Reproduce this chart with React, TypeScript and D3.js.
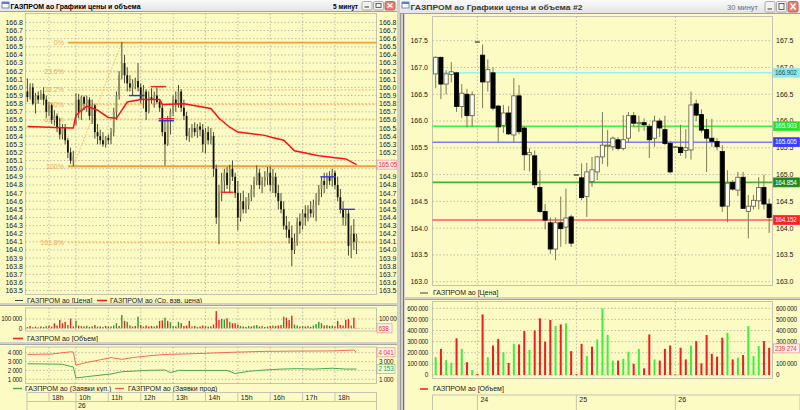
import React from 'react';
import * as d3 from 'd3';

// ---------- Left chart: 5-minute bars [open, high, low, close], 25th 17:20 → 26th 18:40 ----------
const leftBars: number[][] = [
  [165.95,166.11,165.82,165.88],[165.88,166.05,165.85,166.0],[166.0,166.05,165.78,165.8],[165.8,165.93,165.68,165.9],
  [165.9,165.95,165.8,165.85],[165.85,165.97,165.85,165.92],[165.92,166.0,165.78,165.85],[165.85,165.9,165.63,165.7],
  [165.7,165.82,165.65,165.78],[165.78,165.8,165.55,165.6],[165.6,165.72,165.53,165.65],[165.65,165.68,165.45,165.5],
  [165.5,165.62,165.36,165.42],[165.42,165.55,165.36,165.5],[165.5,165.55,165.3,165.35],[165.35,165.38,165.13,165.2],
  [165.2,165.26,165.06,165.1],[165.1,165.22,165.03,165.15],
  [165.55,165.93,165.53,165.85],[165.85,165.92,165.62,165.7],[165.7,165.9,165.6,165.88],[165.88,165.9,165.72,165.8],
  [165.8,165.9,165.7,165.85],[165.85,165.88,165.6,165.65],[165.65,165.85,165.55,165.78],[165.78,165.8,165.37,165.45],
  [165.45,165.55,165.3,165.4],[165.4,165.48,165.3,165.35],[165.35,165.45,165.27,165.3],[165.3,165.4,165.26,165.38],
  [165.38,165.42,165.3,165.35],[165.35,165.5,165.3,165.45],[165.45,165.75,165.4,165.7],[165.7,165.95,165.6,165.9],
  [165.9,166.2,165.85,166.15],[166.15,166.56,166.1,166.3],[166.3,166.4,166.05,166.15],[166.15,166.25,165.95,166.05],
  [166.05,166.15,165.95,166.0],[166.0,166.1,165.9,166.05],[166.05,166.12,165.98,166.08],[166.08,166.3,165.95,166.0],
  [166.0,166.05,165.8,165.85],[165.85,166.03,165.74,165.95],[165.95,165.98,165.6,165.7],[165.7,165.95,165.68,165.88],
  [165.88,165.99,165.8,165.85],[165.85,165.95,165.75,165.9],[165.9,166.0,165.8,165.82],[165.82,165.85,165.7,165.75],
  [165.75,165.8,165.4,165.45],[165.45,165.6,165.04,165.3],[165.3,165.65,165.28,165.6],[165.6,165.74,165.42,165.7],
  [165.7,165.9,165.65,165.85],[165.85,165.95,165.7,165.8],[165.8,166.03,165.75,165.95],[165.95,165.98,165.7,165.75],
  [165.75,165.85,165.6,165.65],[165.65,165.7,165.35,165.4],[165.4,165.5,165.33,165.45],[165.45,165.55,165.38,165.5],
  [165.5,165.57,165.4,165.45],[165.45,165.55,165.38,165.52],[165.52,165.57,165.4,165.48],[165.48,165.55,165.2,165.3],
  [165.3,165.5,165.19,165.45],[165.45,165.52,165.3,165.35],[165.35,165.5,165.3,165.4],[165.4,165.45,164.9,165.0],
  [165.0,165.05,164.32,164.4],[164.4,164.8,164.07,164.7],[164.7,164.95,164.6,164.85],[164.85,165.0,164.7,164.95],
  [164.95,165.02,164.75,164.8],[164.8,165.05,164.7,165.0],[165.0,165.1,164.85,164.9],[164.9,164.95,164.64,164.7],
  [164.7,164.85,164.24,164.4],[164.4,164.7,164.35,164.6],[164.6,164.73,164.45,164.5],[164.5,164.65,164.45,164.55],
  [164.55,164.7,164.5,164.65],[164.65,164.8,164.6,164.75],[164.75,164.9,164.65,164.85],[164.85,165.04,164.8,164.95],
  [164.95,165.0,164.75,164.8],[164.8,164.9,164.7,164.85],[164.85,164.97,164.78,164.9],[164.9,165.02,164.8,164.95],
  [164.95,165.03,164.72,164.8],[164.8,165.0,164.7,164.9],[164.9,164.95,164.65,164.7],[164.7,164.8,164.5,164.6],
  [164.6,164.7,164.45,164.5],[164.5,164.6,164.25,164.3],[164.3,164.42,164.15,164.25],[164.25,164.35,164.08,164.15],
  [164.15,164.3,163.8,164.0],[164.0,164.2,163.95,164.1],[164.1,164.4,164.05,164.35],[164.35,164.45,164.2,164.3],
  [164.3,164.5,164.25,164.45],[164.45,164.55,164.3,164.4],[164.4,164.55,164.35,164.5],[164.5,164.6,164.4,164.45],
  [164.45,164.62,164.4,164.55],[164.55,164.7,164.35,164.6],[164.6,164.8,164.55,164.75],[164.75,164.9,164.65,164.85],
  [164.85,164.95,164.7,164.8],[164.8,164.95,164.75,164.9],[164.9,164.97,164.8,164.85],[164.85,165.0,164.78,164.95],
  [164.95,164.98,164.75,164.8],[164.8,164.9,164.6,164.65],[164.65,164.75,164.45,164.5],[164.5,164.6,164.3,164.4],
  [164.4,164.5,164.3,164.45],[164.45,164.5,163.93,164.05],[164.05,164.3,163.9,164.2],[164.2,164.38,164.0,164.1],
  [164.1,164.2,163.95,164.15],
];

const leftVwap: number[][] = [
  [0,165.52],[16,165.5],[17,165.5],[18,165.66],[22,165.77],[26,165.72],[30,165.63],[33,165.62],[35,165.72],
  [37,165.82],[42,165.85],[49,165.85],[50,165.79],[58,165.8],[68,165.74],[71,165.62],[75,165.51],[78,165.45],
  [88,165.41],[90,165.39],[95,165.35],[99,165.22],[108,165.16],[118,165.12],[122,165.05],
];

const leftVolume: number[] = [
  15000,25000,12000,18000,10000,20000,15000,22000,30000,18000,54000,30000,90000,55000,70000,35000,105000,20000,
  82000,30000,25000,20000,28000,15000,22000,35000,18000,20000,15000,25000,18000,20000,30000,55000,25000,143000,80000,70000,30000,20000,25000,
  125000,35000,20000,30000,20000,25000,20000,30000,80000,85000,114000,80000,65000,25000,20000,70000,55000,25000,30000,80000,20000,25000,15000,20000,30000,25000,18000,22000,40000,
  185000,90000,100000,95000,107000,70000,55000,55000,40000,25000,20000,15000,25000,20000,30000,35000,20000,25000,15000,20000,25000,30000,25000,30000,35000,125000,114000,90000,136000,
  40000,30000,20000,25000,20000,25000,15000,30000,45000,70000,55000,30000,35000,25000,30000,20000,80000,35000,30000,90000,100000,30000,114000,638,
];
const leftVolDir = 'grgrgrggrrrrrrrgrr' + 'grgrgrgrgrggrgggrgrgrgr' + 'grgrrrgrrrgrggrgrrrrgrgrrgrgr' + 'rrggrgrrrgrrgrggrgrgrgrrrgrrr' + 'ggrgrgrggggrgrgrrrrrrgrr';

const sellOrders: number[][] = [
  [0,3800],[9,3850],[16,4100],[17,4080],[18,2600],[22,2900],[27,3200],[31,3450],[35,3250],[39,3450],
  [45,3650],[51,3800],[63,3900],[76,4050],[88,4150],[100,4180],[113,4200],[121,4300],[122,4041],
];
const buyOrders: number[][] = [
  [0,2750],[13,2700],[16,2450],[17,2400],[18,1150],[22,1300],[31,1600],[35,1850],[44,2000],[51,2050],[53,1750],
  [56,2000],[74,2000],[77,1650],[82,1900],[88,2050],[94,2150],[100,2200],[106,2150],[113,2250],[118,2150],[122,2153],
];

// [fromIdx, toIdx, price, color]
const leftMarkers: (number | string)[][] = [
  [38,43,165.9,'#3030e0'],[46,51,166.01,'#ff2020'],[49,54,165.615,'#ff2020'],[49,54,165.59,'#3030e0'],
  [72,76,164.71,'#ff2020'],[109,114,164.9,'#3838d8'],[116,121,164.5,'#3838d8'],
];

const fibLow = 165.03;
const fibHigh = 166.55;
const fibLevels: number[] = [0, 23.6, 38.2, 50, 61.8, 100, 161.8];
const fibStartIdx = 15;
const fibDiagFrom = 17;
const fibDiagTo = 35;

const leftPriceTicks: number[] = [163.5,163.6,163.7,163.8,163.9,164.0,164.1,164.2,164.3,164.4,164.5,164.6,164.7,164.8,164.9,165.0,165.1,165.2,165.3,165.4,165.5,165.6,165.7,165.8,165.9,166.0,166.1,166.2,166.3,166.4,166.5,166.6,166.7,166.8];
const leftVolTicks: number[] = [0, 100000];
const orderTicks: number[] = [1000, 2000, 3000, 4000];
const leftHourTicks: (number | string)[][] = [[8,'18h'],[18,'10h'],[30,'11h'],[42,'12h'],[54,'13h'],[66,'14h'],[78,'15h'],[90,'16h'],[102,'17h'],[114,'18h']];
const leftDayTicks: (number | string)[][] = [[18,'26']];

// ---------- Right chart: 30-minute candles ----------
const rightBars: number[][] = [
  [166.88,167.21,166.61,167.19],[167.19,167.2,166.41,166.69],[166.69,166.95,166.5,166.88],[166.87,167.1,166.72,166.92],
  [166.9,166.92,166.17,166.27],[166.27,166.69,166.06,166.52],[166.5,166.6,165.88,166.1],[166.1,166.55,165.9,166.49],
  [167.48,167.5,167.47,167.48],
  [167.23,167.43,166.24,166.73],[166.73,167.15,166.55,166.96],[166.9,167.0,166.2,166.24],[166.28,166.3,165.61,165.89],
  [165.92,166.3,165.78,166.15],[166.15,166.28,165.74,165.76],[165.74,166.8,165.6,166.47],[166.47,166.67,165.75,165.8],
  [165.87,165.9,165.08,165.37],[165.37,165.49,165.06,165.41],[165.35,165.45,164.74,164.81],[164.76,165.08,164.28,164.31],
  [164.31,164.45,163.98,164.15],[164.1,164.2,163.52,163.61],[163.61,164.2,163.4,164.1],[164.1,164.59,163.65,163.99],
  [164.02,164.74,163.7,164.19],[164.21,164.25,163.65,163.72],
  [165.0,165.01,164.99,165.0],
  [164.94,165.21,164.52,164.57],[164.59,165.22,164.21,165.05],[164.87,165.33,164.77,165.09],[165.05,165.35,164.9,165.33],
  [165.33,166.17,165.2,165.55],[165.53,165.83,165.15,165.55],[165.52,165.71,165.45,165.68],[165.65,165.7,165.45,165.49],
  [165.49,166.11,165.45,165.65],[165.68,166.17,165.6,166.1],[166.1,166.17,165.9,165.96],[165.95,166.1,165.8,165.97],
  [165.97,166.05,165.82,165.93],[165.9,165.95,165.31,165.65],[165.68,166.1,165.52,166.0],[166.0,166.05,165.7,165.87],
  [165.84,166.1,165.55,165.58],[165.58,165.62,165.02,165.05],
  [165.52,165.53,165.51,165.52],
  [165.51,165.93,165.35,165.41],[165.45,165.85,165.3,165.5],[165.46,166.55,165.28,166.3],[166.32,166.4,166.0,166.11],
  [166.12,166.22,165.78,165.83],[165.84,166.04,165.05,165.68],[165.68,166.04,165.52,165.62],[165.62,165.68,165.45,165.52],
  [165.43,165.55,164.3,164.41],[164.41,165.08,164.11,164.84],[164.85,164.9,164.7,164.73],[164.71,165.05,164.6,164.95],
  [164.95,165.05,164.37,164.37],[164.31,164.62,163.81,164.41],[164.41,164.62,164.35,164.52],[164.51,164.95,164.35,164.76],
  [164.76,165.0,164.35,164.45],[164.45,164.55,163.91,164.2],
];
const rightVolume: number[] = [
  160000,235000,135000,110000,330000,235000,115000,45000,10000,
  545000,160000,265000,325000,205000,108000,280000,275000,395000,225000,400000,510000,300000,495000,440000,455000,465000,215000,8000,
  280000,170000,255000,320000,600000,360000,130000,130000,145000,210000,100000,235000,60000,365000,140000,130000,235000,265000,5000,
  245000,140000,265000,305000,105000,360000,190000,165000,335000,380000,140000,155000,180000,440000,170000,260000,305000,245000,
];
const rightVolDir = 'grggrgrgr' + 'rgrrgrgrrgrrrrgrgrr' + 'rgrggggrggrgrrgrrrr' + 'rrgrrrrrrgrgrgggrr';

// [price, line color, box fill, text color]
const rightLevels: (number | string)[][] = [
  [166.902,'#9ff0ee','#8ee8ea','#205060'],
  [165.903,'#3cf03c','#30e030','#f0fff0'],
  [165.605,'#7a7aff','#3c3cff','#ffffff'],
  [164.854,'#38b838','#1e8a1e','#ffffff'],
  [164.152,'#ff5a5a','#ff2020','#ffffff'],
];
const rightPriceTicks: number[] = [163.0,163.5,164.0,164.5,165.0,165.5,166.0,166.5,167.0,167.5];
const rightVolTicks: number[] = [0,100000,200000,300000,400000,500000,600000];
const rightDayTicks: (number | string)[][] = [[8,'24'],[27,'25'],[46,'26']];
const lastRightVolume = 239274;

// ---------- styling ----------
const FONT = "'Liberation Sans', Arial, sans-serif";
const BG = '#fdfbc4';
const GRID = '#aeae9e';
const FRAME = '#c4c4b0';
const fmtK = (v: number) => d3.format(',')(v).replace(/,/g, ' ');
const fmtP1 = d3.format('.1f');

function TitleBar({ x, w, h, title, tf, active, titleLen, tfX, tfLen }: any) {
  const bx = x + w - 35;
  return (
    <g>
      <defs>
        <linearGradient id={`tb${x}`} x1="0" y1="0" x2="0" y2="1">
          <stop offset="0" stopColor="#fafafa" />
          <stop offset="1" stopColor="#e2e2e2" />
        </linearGradient>
      </defs>
      <rect x={x} y={0} width={w} height={h} fill={`url(#tb${x})`} />
      <line x1={x} x2={x + w} y1={h - 0.5} y2={h - 0.5} stroke="#a0a0a0" />
      <rect x={x + 2} y={2} width={7} height={6} fill="#ffffff" stroke="#5070c0" strokeWidth={0.8} />
      <rect x={x + 2} y={2} width={7} height={2} fill="#5a7fd0" />
      <text x={x + 10.5} y={h / 2 + 3} fontSize={8} fontWeight="bold" textLength={titleLen} lengthAdjust="spacingAndGlyphs"
        fill={active ? '#000' : '#3a3a3a'}>{title}</text>
      <text x={tfX} y={h / 2 + 3} fontSize={8} textLength={tfLen} lengthAdjust="spacingAndGlyphs"
        fill={active ? '#000' : '#707070'} fontWeight={active ? 'bold' : 'normal'}>{tf}</text>
      {[0, 1, 2].map((k) => (
        <g key={k}>
          <rect x={bx + k * 11.5} y={1.5} width={10} height={h - 3.5} rx={1.5}
            fill={k === 2 ? '#e8826e' : '#f2f2f2'} stroke={k === 2 ? '#b05040' : '#9a9a9a'} strokeWidth={0.8} />
          {k === 0 && <line x1={bx + 2.5} x2={bx + 7} y1={h - 5} y2={h - 5} stroke="#555" strokeWidth={1.2} />}
          {k === 1 && <rect x={bx + 11.5 + 2.5} y={3.5} width={5} height={h - 8} fill="none" stroke="#555" strokeWidth={0.9} />}
          {k === 2 && (
            <path d={`M${bx + 23 + 2.5},${3.5}L${bx + 23 + 7.5},${h - 4.5}M${bx + 23 + 7.5},${3.5}L${bx + 23 + 2.5},${h - 4.5}`}
              stroke="#fff" strokeWidth={1.4} />
          )}
        </g>
      ))}
    </g>
  );
}

function Box({ x, y, text, fill, stroke, color, w }: any) {
  return (
    <g>
      <rect x={x} y={y - 4.5} width={w} height={9} fill={fill} stroke={stroke} strokeWidth={0.7} />
      <text x={x + 1.5} y={y} dy="0.35em" fontSize={6.4} letterSpacing={-0.2} fill={color}>{text}</text>
    </g>
  );
}

// compact number label (thousands), narrower like the original
function KLabel({ x, y, v, anchor }: any) {
  return (
    <text x={x} y={y} dy="0.35em" fontSize={6.3} letterSpacing={-0.3} textAnchor={anchor} fill="#222">{fmtK(v)}</text>
  );
}

export default function App() {
  // left scales
  const xL = d3.scaleLinear().domain([0, 122]).range([27.4, 27.4 + 122 * 2.698]);
  const yP = d3.scaleLinear().domain([163.5, 166.8]).range([290.6, 22.4]);
  const yV = d3.scaleLinear().domain([0, 100000]).range([328.3, 319]);
  const yO = d3.scaleLinear().domain([1000, 4000]).range([379.3, 352.7]);
  // right scales
  const xR = d3.scaleLinear().domain([0, 64]).range([435.7, 435.7 + 64 * 5.21]);
  const yR = d3.scaleLinear().domain([163, 167.5]).range([281.7, 40.7]);
  const yRV = d3.scaleLinear().domain([0, 600000]).range([375, 308.3]);

  const L = { x0: 25.5, x1: 376.5 };
  const R = { x0: 432.5, x1: 772.5 };

  const vwapLine = d3.line<number[]>().x((d) => xL(d[0])).y((d) => yP(d[1]))(leftVwap) || '';
  const sellLine = d3.line<number[]>().x((d) => xL(d[0])).y((d) => yO(d[1]))(sellOrders) || '';
  const buyLine = d3.line<number[]>().x((d) => xL(d[0])).y((d) => yO(d[1]))(buyOrders) || '';

  const fibPrice = (lv: number) => fibHigh - (fibHigh - fibLow) * lv / 100;

  const hGrid = (ys: number[], x0: number, x1: number, key: string) =>
    ys.map((y, i) => <line key={key + i} x1={x0} x2={x1} y1={y} y2={y} stroke={GRID} strokeWidth={0.8} strokeDasharray="1.5,2" />);
  const vGrid = (xs: number[], y0: number, y1: number, key: string) =>
    xs.map((x, i) => <line key={key + i} x1={x} x2={x} y1={y0} y2={y1} stroke={GRID} strokeWidth={0.8} strokeDasharray="1.5,2" />);

  const hourXs = leftHourTicks.map((t) => xL(t[0] as number));
  const dayXs = rightDayTicks.map((t) => xR(t[0] as number));

  const lastVwap = leftVwap[leftVwap.length - 1][1];
  const lastSell = sellOrders[sellOrders.length - 1][1];
  const lastBuy = buyOrders[buyOrders.length - 1][1];
  const lastLeftVol = leftVolume[leftVolume.length - 1];

  // right-side labels hidden behind value boxes
  const free = (y: number, boxes: number[]) => boxes.every((b) => Math.abs(b - y) > 4.6);
  const lpBoxes = [yP(lastVwap)];
  const lvBoxes = [yV(0)];
  const loBoxes = [yO(lastSell), yO(lastBuy)];
  const rpBoxes = rightLevels.map((l) => yR(l[0] as number));
  const rvBoxes = [yRV(lastRightVolume)];

  return (
    <svg width={800} height={410} style={{ position: 'absolute', left: 0, top: 0, background: '#d4d0c8' }} fontFamily={FONT}>
      {/* ================= LEFT WINDOW ================= */}
      <rect x={0} y={12} width={397} height={398} fill={BG} />
      {/* price panel */}
      <rect x={L.x0} y={13.5} width={L.x1 - L.x0} height={281} fill="none" stroke={FRAME} />
      {hGrid(leftPriceTicks.map((p) => yP(p)), L.x0, L.x1, 'lpg')}
      {vGrid(hourXs, 13.5, 294.5, 'lpv')}
      {/* fibonacci */}
      {fibLevels.map((lv) => {
        const y = yP(fibPrice(lv));
        const solid = lv === 0 || lv === 100;
        return (
          <g key={'fib' + lv}>
            <line x1={xL(fibStartIdx)} x2={L.x1} y1={y} y2={y}
              stroke={solid ? '#f5a030' : '#f6c070'} strokeWidth={solid ? 1.8 : 1.3}
              strokeDasharray={solid ? undefined : '2,1.5'} />
            <text x={64} y={y} dy="0.35em" fontSize={7} textAnchor="end" fill="#eea860">{lv}%</text>
          </g>
        );
      })}
      <line x1={xL(fibDiagFrom)} y1={yP(fibLow)} x2={xL(fibDiagTo)} y2={yP(fibHigh)} stroke="#f2b060" strokeWidth={0.9} strokeDasharray="1.5,1.5" />
      {/* bars */}
      {leftBars.map((b, i) => {
        const [o, h, l, c] = b;
        const x = xL(i);
        const up = c >= o;
        const top = yP(Math.max(o, c));
        const bh = Math.max(0.8, Math.abs(yP(o) - yP(c)));
        return (
          <g key={'lb' + i}>
            <line x1={x} x2={x} y1={yP(h)} y2={yP(l)} stroke="#4c4c30" strokeWidth={1} />
            <rect x={x - 0.9} y={top} width={1.8} height={bh} fill={up ? '#8e8e60' : '#111108'} />
          </g>
        );
      })}
      <path d={vwapLine} fill="none" stroke="#ff1010" strokeWidth={1.5} />
      {leftMarkers.map((m, i) => (
        <line key={'mk' + i} x1={xL(m[0] as number) - 1} x2={xL(m[1] as number) + 1}
          y1={yP(m[2] as number)} y2={yP(m[2] as number)} stroke={m[3] as string} strokeWidth={1.4} />
      ))}
      {leftPriceTicks.map((p) => (
        <g key={'lpt' + p}>
          <text x={23} y={yP(p)} dy="0.35em" fontSize={7} textAnchor="end" fill="#222">{fmtP1(p)}</text>
          {free(yP(p), lpBoxes) && <text x={379} y={yP(p)} dy="0.35em" fontSize={7} fill="#222">{fmtP1(p)}</text>}
        </g>
      ))}
      <Box x={377} y={yP(lastVwap)} w={20} text={d3.format('.2f')(lastVwap)} fill="#fff4f0" stroke="#f09080" color="#ff2020" />
      {/* price legend */}
      <line x1={15} x2={23} y1={300.5} y2={300.5} stroke="#404040" strokeWidth={1} />
      <text x={27} y={300.5} dy="0.35em" fontSize={7} fill="#222">ГАЗПРОМ ао [Цена]</text>
      <line x1={97} x2={107} y1={300.5} y2={300.5} stroke="#ff2020" strokeWidth={1.6} />
      <text x={110} y={300.5} dy="0.35em" fontSize={7} fill="#222">ГАЗПРОМ ао (Ср. взв. цена)</text>
      <rect x={0} y={303} width={397} height={3} fill="#d4d0c8" />
      <line x1={0} x2={397} y1={305.5} y2={305.5} stroke="#a8a8a0" />

      {/* volume panel */}
      <rect x={L.x0} y={308} width={L.x1 - L.x0} height={23} fill="none" stroke={FRAME} />
      {hGrid(leftVolTicks.map((v) => yV(v)), L.x0, L.x1, 'lvg')}
      {vGrid(hourXs, 308, 331, 'lvv')}
      {leftVolume.map((v, i) => (
        <rect key={'lv' + i} x={xL(i) - 0.7} y={yV(v)} width={1.4} height={Math.max(0.3, yV(0) - yV(v))}
          fill={leftVolDir[i] === 'g' ? '#2a9a2a' : '#f02020'} />
      ))}
      {leftVolTicks.map((v) => (
        <g key={'lvt' + v}>
          <KLabel x={22} y={yV(v)} v={v} anchor="end" />
          {free(yV(v), lvBoxes) && <KLabel x={379} y={yV(v)} v={v} anchor="start" />}
        </g>
      ))}
      <Box x={377} y={yV(0)} w={15} text={fmtK(lastLeftVol)} fill="#fff4f0" stroke="#f09080" color="#ff3030" />
      <line x1={13} x2={23} y1={338.5} y2={338.5} stroke="#ff2020" strokeWidth={1.6} />
      <text x={27} y={338.5} dy="0.35em" fontSize={7} fill="#222">ГАЗПРОМ ао [Объем]</text>
      <rect x={0} y={342} width={397} height={3} fill="#d4d0c8" />
      <line x1={0} x2={397} y1={344.5} y2={344.5} stroke="#a8a8a0" />

      {/* orders panel */}
      <rect x={L.x0} y={347} width={L.x1 - L.x0} height={36.5} fill="none" stroke={FRAME} />
      {hGrid(orderTicks.map((v) => yO(v)), L.x0, L.x1, 'log')}
      {vGrid(hourXs, 347, 383.5, 'lov')}
      <path d={sellLine} fill="none" stroke="#f26a56" strokeWidth={1} />
      <path d={buyLine} fill="none" stroke="#4aa84a" strokeWidth={1} />
      {orderTicks.map((v) => (
        <g key={'lot' + v}>
          <KLabel x={22} y={yO(v)} v={v} anchor="end" />
          {free(yO(v), loBoxes) && <KLabel x={379} y={yO(v)} v={v} anchor="start" />}
        </g>
      ))}
      <Box x={377} y={yO(lastSell)} w={18} text={fmtK(lastSell)} fill="#fff4f0" stroke="#f09080" color="#ff3030" />
      <Box x={377} y={yO(lastBuy)} w={18} text={fmtK(lastBuy)} fill="#f4fff0" stroke="#80c080" color="#2a9a2a" />
      <line x1={13} x2={22} y1={388.5} y2={388.5} stroke="#4aa84a" strokeWidth={1.4} />
      <text x={25} y={388.5} dy="0.35em" fontSize={7} fill="#222">ГАЗПРОМ ао (Заявки куп.)</text>
      <line x1={115} x2={124} y1={388.5} y2={388.5} stroke="#f26a56" strokeWidth={1.4} />
      <text x={128} y={388.5} dy="0.35em" fontSize={7} fill="#222">ГАЗПРОМ ао (Заявки прод)</text>

      {/* left time axis */}
      <rect x={27} y={392.5} width={L.x1 - 27} height={18} fill="none" stroke={FRAME} />
      <line x1={27} x2={L.x1} y1={401.5} y2={401.5} stroke={FRAME} />
      {leftHourTicks.map((t) => (
        <g key={'lht' + t[1] + t[0]}>
          <line x1={xL(t[0] as number)} x2={xL(t[0] as number)} y1={392.5} y2={401.5} stroke={FRAME} />
          <text x={xL(t[0] as number) + 3} y={397.3} dy="0.35em" fontSize={7} fill="#222">{t[1]}</text>
        </g>
      ))}
      {leftDayTicks.map((t) => (
        <g key={'ldt' + t[1]}>
          <line x1={xL(t[0] as number)} x2={xL(t[0] as number)} y1={401.5} y2={410} stroke={FRAME} />
          <text x={xL(t[0] as number) + 2} y={406} dy="0.35em" fontSize={7} fill="#222">{t[1]}</text>
        </g>
      ))}

      <TitleBar x={0} w={397} h={12} title="ГАЗПРОМ ао Графики цены и объема" tf="5 минут" active
        titleLen={130} tfX={333} tfLen={25} />

      {/* window border between */}
      <rect x={397} y={0} width={8} height={410} fill="#d4d0c8" />
      <line x1={400.5} x2={400.5} y1={0} y2={410} stroke="#9a9a9a" />
      <line x1={403.5} x2={403.5} y1={14} y2={410} stroke="#6070a0" />

      {/* ================= RIGHT WINDOW ================= */}
      <rect x={405} y={14} width={395} height={396} fill={BG} />
      <rect x={R.x0} y={16.5} width={R.x1 - R.x0} height={269} fill="none" stroke={FRAME} />
      {hGrid(rightPriceTicks.map((p) => yR(p)), R.x0, R.x1, 'rpg')}
      {vGrid(dayXs, 16.5, 285.5, 'rpv')}
      {rightLevels.map((lv, i) => (
        <line key={'rl' + i} x1={R.x0} x2={R.x1} y1={yR(lv[0] as number)} y2={yR(lv[0] as number)} stroke={lv[1] as string} strokeWidth={1.6} />
      ))}
      {rightBars.map((b, i) => {
        const [o, h, l, c] = b;
        const x = xR(i);
        const up = c >= o;
        const top = yR(Math.max(o, c));
        const bh = Math.max(0.8, Math.abs(yR(o) - yR(c)));
        return (
          <g key={'rb' + i}>
            <line x1={x} x2={x} y1={yR(h)} y2={yR(l)} stroke="#7c7c58" strokeWidth={1} />
            <rect x={x - 2.1} y={top} width={4.2} height={bh}
              fill={up ? '#fffff0' : '#000'} stroke={up ? '#5a5a3a' : '#000'} strokeWidth={0.8} />
          </g>
        );
      })}
      {rightPriceTicks.map((p) => (
        <g key={'rpt' + p}>
          <text x={428} y={yR(p)} dy="0.35em" fontSize={7} textAnchor="end" fill="#222">{fmtP1(p)}</text>
          {free(yR(p), rpBoxes) && <text x={776} y={yR(p)} dy="0.35em" fontSize={7} fill="#222">{fmtP1(p)}</text>}
        </g>
      ))}
      {rightLevels.map((lv, i) => (
        <Box key={'rlb' + i} x={773.5} y={yR(lv[0] as number)} w={26} text={d3.format('.3f')(lv[0] as number)}
          fill={lv[2]} stroke={lv[2]} color={lv[3]} />
      ))}
      <line x1={420} x2={428} y1={293} y2={293} stroke="#404040" strokeWidth={1} />
      <text x={433} y={293} dy="0.35em" fontSize={7} fill="#222">ГАЗПРОМ ао [Цена]</text>
      <rect x={405} y={297} width={395} height={3} fill="#d4d0c8" />
      <line x1={405} x2={800} y1={299.5} y2={299.5} stroke="#a8a8a0" />

      {/* right volume */}
      <rect x={R.x0} y={301.5} width={R.x1 - R.x0} height={77} fill="none" stroke={FRAME} />
      {hGrid(rightVolTicks.map((v) => yRV(v)), R.x0, R.x1, 'rvg')}
      {vGrid(dayXs, 301.5, 378.5, 'rvv')}
      {rightVolume.map((v, i) => (
        <rect key={'rv' + i} x={xR(i) - 1} y={yRV(v)} width={2} height={Math.max(0.5, yRV(0) - yRV(v))}
          fill={rightVolDir[i] === 'g' ? '#3ef03e' : '#f21c1c'} />
      ))}
      {rightVolTicks.map((v) => (
        <g key={'rvt' + v}>
          <KLabel x={428} y={yRV(v)} v={v} anchor="end" />
          {free(yRV(v), rvBoxes) && <KLabel x={776} y={yRV(v)} v={v} anchor="start" />}
        </g>
      ))}
      <Box x={773.5} y={yRV(lastRightVolume)} w={26} text={fmtK(lastRightVolume)} fill="#fff4f0" stroke="#f09080" color="#ff3030" />
      <line x1={420} x2={428} y1={389} y2={389} stroke="#ff2020" strokeWidth={1.6} />
      <text x={433} y={389} dy="0.35em" fontSize={7} fill="#222">ГАЗПРОМ ао [Объем]</text>

      {/* right time axis */}
      <rect x={R.x0} y={395} width={800 - R.x0} height={16} fill="none" stroke={FRAME} />
      {rightDayTicks.map((t) => (
        <g key={'rdt' + t[1]}>
          <line x1={xR(t[0] as number)} x2={xR(t[0] as number)} y1={395} y2={410} stroke={FRAME} />
          <text x={xR(t[0] as number) + 3} y={399.5} dy="0.35em" fontSize={7} fill="#222">{t[1]}</text>
        </g>
      ))}

      <TitleBar x={400} w={400} h={14} title="ГАЗПРОМ ао Графики цены и объема #2" tf="30 минут" active={false}
        titleLen={172} tfX={727} tfLen={31} />
    </svg>
  );
}
